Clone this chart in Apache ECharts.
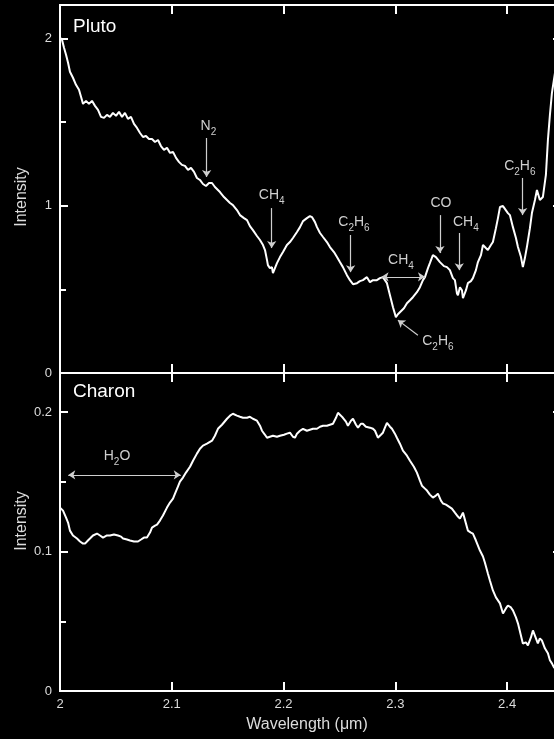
<!DOCTYPE html>
<html>
<head>
<meta charset="utf-8">
<title>Pluto and Charon spectra</title>
<script src="https://cdn.jsdelivr.net/npm/echarts@6/dist/echarts.min.js"></script>
<style>
  html, body { margin: 0; padding: 0; background: #000; }
  #chart { width: 554px; height: 739px; }
</style>
</head>
<body>
<div id="chart"></div>
<script>
// Pluto reflectance spectrum (wavelength in µm, relative intensity)
const plutoWavelength = [
  2.0000, 2.0018, 2.0036, 2.0054, 2.0072, 2.0089, 2.0116, 2.0143, 2.0170, 2.0188,
  2.0206, 2.0233, 2.0259, 2.0286, 2.0313, 2.0340, 2.0367, 2.0394, 2.0420, 2.0447,
  2.0474, 2.0501, 2.0528, 2.0555, 2.0581, 2.0608, 2.0635, 2.0662, 2.0689, 2.0716,
  2.0742, 2.0769, 2.0796, 2.0823, 2.0850, 2.0877, 2.0903, 2.0930, 2.0957, 2.0984,
  2.1011, 2.1038, 2.1064, 2.1091, 2.1118, 2.1145, 2.1172, 2.1199, 2.1225, 2.1252,
  2.1279, 2.1306, 2.1333, 2.1360, 2.1386, 2.1431, 2.1467, 2.1494, 2.1521, 2.1547,
  2.1583, 2.1610, 2.1646, 2.1673, 2.1699, 2.1726, 2.1762, 2.1789, 2.1816, 2.1834,
  2.1852, 2.1860, 2.1878, 2.1896, 2.1905, 2.1923, 2.1941, 2.1968, 2.1995, 2.2030,
  2.2057, 2.2084, 2.2120, 2.2147, 2.2174, 2.2209, 2.2236, 2.2254, 2.2281, 2.2299,
  2.2326, 2.2353, 2.2388, 2.2415, 2.2451, 2.2478, 2.2504, 2.2531, 2.2567, 2.2594,
  2.2621, 2.2657, 2.2683, 2.2710, 2.2746, 2.2773, 2.2800, 2.2835, 2.2862, 2.2889,
  2.2925, 2.2952, 2.2979, 2.3005, 2.3023, 2.3041, 2.3077, 2.3104, 2.3131, 2.3157,
  2.3193, 2.3220, 2.3247, 2.3265, 2.3292, 2.3309, 2.3336, 2.3363, 2.3399, 2.3435,
  2.3462, 2.3488, 2.3515, 2.3533, 2.3551, 2.3560, 2.3578, 2.3596, 2.3605, 2.3632,
  2.3649, 2.3676, 2.3694, 2.3721, 2.3739, 2.3766, 2.3784, 2.3810, 2.3828, 2.3855,
  2.3873, 2.3900, 2.3918, 2.3936, 2.3963, 2.3980, 2.4007, 2.4025, 2.4052, 2.4079,
  2.4097, 2.4124, 2.4141, 2.4159, 2.4177, 2.4204, 2.4222, 2.4249, 2.4267, 2.4293,
  2.4320, 2.4347, 2.4365, 2.4383, 2.4401, 2.4419, 2.4446, 2.4472
];
const plutoIntensity = [
  2.004, 1.992, 1.944, 1.902, 1.855, 1.801, 1.765, 1.723, 1.693, 1.651,
  1.609, 1.627, 1.609, 1.627, 1.597, 1.573, 1.531, 1.525, 1.543, 1.531,
  1.555, 1.537, 1.561, 1.531, 1.555, 1.519, 1.531, 1.489, 1.465, 1.435,
  1.411, 1.417, 1.399, 1.399, 1.381, 1.393, 1.357, 1.334, 1.346, 1.316,
  1.322, 1.286, 1.262, 1.244, 1.238, 1.214, 1.226, 1.202, 1.166, 1.154,
  1.130, 1.118, 1.136, 1.136, 1.112, 1.082, 1.052, 1.034, 1.016, 1.004,
  0.974, 0.944, 0.926, 0.914, 0.878, 0.854, 0.819, 0.795, 0.765, 0.735,
  0.675, 0.645, 0.627, 0.633, 0.597, 0.627, 0.657, 0.693, 0.723, 0.765,
  0.783, 0.807, 0.843, 0.872, 0.908, 0.926, 0.938, 0.932, 0.902, 0.872,
  0.837, 0.813, 0.783, 0.753, 0.723, 0.693, 0.663, 0.633, 0.585, 0.555,
  0.531, 0.537, 0.549, 0.555, 0.573, 0.543, 0.555, 0.555, 0.567, 0.573,
  0.537, 0.465, 0.393, 0.334, 0.351, 0.363, 0.387, 0.417, 0.435, 0.453,
  0.483, 0.513, 0.555, 0.573, 0.627, 0.657, 0.705, 0.693, 0.663, 0.639,
  0.633, 0.615, 0.567, 0.555, 0.477, 0.465, 0.513, 0.495, 0.447, 0.495,
  0.537, 0.549, 0.567, 0.615, 0.663, 0.705, 0.765, 0.747, 0.735, 0.765,
  0.783, 0.866, 0.926, 0.992, 0.998, 1.004, 0.956, 0.944, 0.872, 0.807,
  0.753, 0.693, 0.633, 0.687, 0.753, 0.866, 0.956, 1.034, 1.094, 1.034,
  1.052, 1.184, 1.393, 1.543, 1.675, 1.753, 1.872, 1.962
];

// Charon reflectance spectrum
const charonWavelength = [
  2.0000, 2.0027, 2.0054, 2.0072, 2.0089, 2.0116, 2.0152, 2.0179, 2.0206, 2.0224,
  2.0250, 2.0268, 2.0295, 2.0331, 2.0358, 2.0385, 2.0420, 2.0447, 2.0483, 2.0519,
  2.0546, 2.0564, 2.0599, 2.0626, 2.0662, 2.0698, 2.0725, 2.0751, 2.0778, 2.0805,
  2.0823, 2.0850, 2.0868, 2.0894, 2.0921, 2.0957, 2.0984, 2.1011, 2.1029, 2.1055,
  2.1073, 2.1100, 2.1127, 2.1163, 2.1190, 2.1225, 2.1252, 2.1279, 2.1315, 2.1360,
  2.1386, 2.1413, 2.1449, 2.1494, 2.1521, 2.1547, 2.1583, 2.1610, 2.1637, 2.1673,
  2.1699, 2.1726, 2.1762, 2.1789, 2.1807, 2.1834, 2.1852, 2.1878, 2.1905, 2.1941,
  2.1968, 2.2004, 2.2030, 2.2057, 2.2084, 2.2102, 2.2120, 2.2147, 2.2174, 2.2209,
  2.2236, 2.2263, 2.2299, 2.2326, 2.2353, 2.2388, 2.2415, 2.2442, 2.2469, 2.2487,
  2.2513, 2.2531, 2.2558, 2.2576, 2.2603, 2.2621, 2.2648, 2.2666, 2.2692, 2.2710,
  2.2737, 2.2773, 2.2800, 2.2818, 2.2844, 2.2871, 2.2889, 2.2907, 2.2925, 2.2952,
  2.2970, 2.2996, 2.3014, 2.3041, 2.3068, 2.3104, 2.3131, 2.3166, 2.3193, 2.3220,
  2.3238, 2.3265, 2.3283, 2.3309, 2.3336, 2.3363, 2.3381, 2.3408, 2.3426, 2.3453,
  2.3470, 2.3506, 2.3533, 2.3560, 2.3578, 2.3605, 2.3632, 2.3649, 2.3676, 2.3694,
  2.3721, 2.3757, 2.3784, 2.3801, 2.3828, 2.3846, 2.3873, 2.3900, 2.3936, 2.3963,
  2.3989, 2.4007, 2.4034, 2.4052, 2.4079, 2.4097, 2.4123, 2.4141, 2.4168, 2.4186,
  2.4213, 2.4231, 2.4258, 2.4275, 2.4293, 2.4311, 2.4338, 2.4365, 2.4383, 2.4401,
  2.4419, 2.4446, 2.4472
];
const charonIntensity = [
  0.1315, 0.1293, 0.1243, 0.1208, 0.1150, 0.1115, 0.1093, 0.1072, 0.1057, 0.1057,
  0.1079, 0.1093, 0.1115, 0.1129, 0.1115, 0.1100, 0.1115, 0.1115, 0.1122, 0.1115,
  0.1107, 0.1093, 0.1086, 0.1079, 0.1072, 0.1072, 0.1086, 0.1100, 0.1100, 0.1136,
  0.1172, 0.1186, 0.1193, 0.1222, 0.1258, 0.1315, 0.1351, 0.1379, 0.1415, 0.1465,
  0.1501, 0.1530, 0.1566, 0.1608, 0.1651, 0.1702, 0.1737, 0.1759, 0.1773, 0.1795,
  0.1830, 0.1880, 0.1909, 0.1952, 0.1974, 0.1988, 0.1974, 0.1966, 0.1959, 0.1959,
  0.1966, 0.1952, 0.1938, 0.1902, 0.1866, 0.1837, 0.1816, 0.1823, 0.1830, 0.1823,
  0.1830, 0.1837, 0.1845, 0.1852, 0.1823, 0.1816, 0.1845, 0.1866, 0.1880, 0.1866,
  0.1873, 0.1880, 0.1880, 0.1895, 0.1902, 0.1902, 0.1909, 0.1916, 0.1959, 0.1995,
  0.1974, 0.1959, 0.1931, 0.1902, 0.1938, 0.1952, 0.1909, 0.1888, 0.1916, 0.1916,
  0.1895, 0.1888, 0.1880, 0.1866, 0.1816, 0.1837, 0.1852, 0.1888, 0.1923, 0.1895,
  0.1880, 0.1845, 0.1816, 0.1773, 0.1723, 0.1687, 0.1651, 0.1608, 0.1566, 0.1508,
  0.1472, 0.1451, 0.1437, 0.1408, 0.1387, 0.1401, 0.1415, 0.1365, 0.1344, 0.1336,
  0.1329, 0.1308, 0.1279, 0.1251, 0.1236, 0.1279, 0.1200, 0.1150, 0.1136, 0.1129,
  0.1079, 0.1007, 0.0964, 0.0921, 0.0843, 0.0792, 0.0721, 0.0671, 0.0628, 0.0556,
  0.0592, 0.0613, 0.0599, 0.0578, 0.0528, 0.0485, 0.0399, 0.0341, 0.0349, 0.0327,
  0.0384, 0.0434, 0.0377, 0.0341, 0.0377, 0.0363, 0.0306, 0.0270, 0.0220, 0.0198,
  0.0170, 0.0148, 0.0134
];

// Absorption features marked on Pluto's spectrum: label anchor [µm, intensity]
const plutoFeatureNames = ['N2', 'CH4', 'C2H6', 'CH4', 'C2H6', 'CO', 'CH4', 'C2H6'];
const plutoFeatureLabelAt = [
  [2.1328, 1.464], [2.1894, 1.052], [2.2630, 0.890], [2.3050, 0.663],
  [2.3381, 0.178], [2.3408, 1.004], [2.3631, 0.890], [2.4114, 1.226]
];
// Single-headed arrows: [from, to] in data units
const plutoFeatureArrows = [
  [[2.1312, 1.405], [2.1312, 1.172]],
  [[2.1894, 0.986], [2.1894, 0.747]],
  [[2.2600, 0.825], [2.2600, 0.603]],
  [[2.3202, 0.226], [2.3023, 0.316]],
  [[2.3399, 0.944], [2.3399, 0.717]],
  [[2.3572, 0.837], [2.3572, 0.615]],
  [[2.4139, 1.166], [2.4139, 0.944]]
];
// Double-headed band span (CH4 band)
const plutoBandSpan = [[2.2877, 0.575], [2.3265, 0.575]];

// Water-ice band on Charon
const charonFeatureNames = ['H2O'];
const charonFeatureLabelAt = [[2.0510, 0.1666]];
const charonBandSpan = [[2.0074, 0.1549], [2.1080, 0.1549]];

// Axis tick values
const xTickInterval = 0.1;
const plutoYTicks = { major: 1, minor: 0.5 };
const charonYTicks = { major: 0.1, minor: 0.05 };

const FONT = '"Liberation Sans", Arial, Helvetica, sans-serif';
const AXIS_COLOR = '#ffffff';
const TEXT_COLOR = '#dcdcdc';
const NOTE_COLOR = '#cfcfcf';

function pairs(xs, ys) { return xs.map((x, i) => [x, ys[i]]); }

// Turn a formula such as C2H6 into rich text with subscripted digits
function chem(s) {
  return s.replace(/([A-Za-z]+)|(\d+)/g, (m, a, d) => a ? '{t|' + a + '}' : '{s|' + d + '}');
}

const chemRich = {
  t: { fontSize: 14, lineHeight: 18, verticalAlign: 'top', color: NOTE_COLOR, fontFamily: FONT },
  s: { fontSize: 10, lineHeight: 10, verticalAlign: 'bottom', color: NOTE_COLOR, fontFamily: FONT }
};

function noteLabels(names, coords) {
  return {
    silent: true,
    symbol: 'circle',
    symbolSize: 1,
    itemStyle: { color: 'rgba(0,0,0,0)' },
    label: {
      show: true,
      position: 'inside',
      formatter: p => chem(p.name),
      rich: chemRich
    },
    data: names.map((n, i) => ({ name: n, coord: coords[i] }))
  };
}

function noteArrows(single, spans) {
  const data = single.map(a => [{ coord: a[0], symbol: 'none' }, { coord: a[1], symbol: 'arrow' }]);
  spans.forEach(s => data.push([{ coord: s[0], symbol: 'arrow' }, { coord: s[1], symbol: 'arrow' }]));
  return {
    silent: true,
    symbolSize: 7,
    label: { show: false },
    lineStyle: { color: NOTE_COLOR, width: 1.2, type: 'solid' },
    emphasis: { disabled: true },
    data: data
  };
}

// The plot frame runs slightly past the right edge of the page
const GRID_LEFT = 60;
const GRID_WIDTH = 503;

function xAxisFor(grid, position, showLabels) {
  return {
    type: 'value', gridIndex: grid, position: position,
    min: 2, max: 2.45, interval: xTickInterval,
    axisLine: { show: true, onZero: false, lineStyle: { color: AXIS_COLOR, width: 2 } },
    axisTick: { show: true, inside: true, length: 9, lineStyle: { color: AXIS_COLOR, width: 2 } },
    axisLabel: {
      show: showLabels, color: TEXT_COLOR, fontSize: 13, fontFamily: FONT, margin: 7,
      showMaxLabel: false
    },
    splitLine: { show: false }
  };
}

function yAxisFor(grid, position, max, interval, tickLen, showLabels) {
  return {
    type: 'value', gridIndex: grid, position: position,
    min: 0, max: max, interval: interval,
    axisLine: { show: true, onZero: false, lineStyle: { color: AXIS_COLOR, width: 2 } },
    axisTick: { show: true, inside: true, length: tickLen, lineStyle: { color: AXIS_COLOR, width: 2 } },
    axisLabel: {
      show: showLabels, color: TEXT_COLOR, fontSize: 13, fontFamily: FONT, margin: 8,
      showMaxLabel: false
    },
    splitLine: { show: false }
  };
}

const chart = echarts.init(document.getElementById('chart'), null, { renderer: 'canvas' });

chart.setOption({
  backgroundColor: '#000000',
  animation: false,
  grid: [
    { left: GRID_LEFT, top: 5, width: GRID_WIDTH, height: 368, outerBoundsMode: 'none', containLabel: false },
    { left: GRID_LEFT, top: 373, width: GRID_WIDTH, height: 318, outerBoundsMode: 'none', containLabel: false }
  ],
  xAxis: [
    xAxisFor(0, 'bottom', false),
    xAxisFor(0, 'top', false),
    xAxisFor(1, 'bottom', true),
    xAxisFor(1, 'top', false)
  ],
  yAxis: [
    yAxisFor(0, 'left', 2.2, plutoYTicks.major, 8, true),
    yAxisFor(0, 'left', 2.2, plutoYTicks.minor, 6, false),
    yAxisFor(0, 'right', 2.2, plutoYTicks.major, 10, false),
    yAxisFor(1, 'left', 0.228, charonYTicks.major, 8, true),
    yAxisFor(1, 'left', 0.228, charonYTicks.minor, 6, false),
    yAxisFor(1, 'right', 0.228, charonYTicks.major, 10, false)
  ],
  series: [
    {
      name: 'Pluto', type: 'line', xAxisIndex: 0, yAxisIndex: 0,
      data: pairs(plutoWavelength, plutoIntensity),
      showSymbol: false, smooth: false,
      lineStyle: { color: '#ffffff', width: 2 },
      markPoint: noteLabels(plutoFeatureNames, plutoFeatureLabelAt),
      markLine: noteArrows(plutoFeatureArrows, [plutoBandSpan])
    },
    {
      name: 'Charon', type: 'line', xAxisIndex: 2, yAxisIndex: 3,
      data: pairs(charonWavelength, charonIntensity),
      showSymbol: false, smooth: false,
      lineStyle: { color: '#ffffff', width: 2 },
      markPoint: noteLabels(charonFeatureNames, charonFeatureLabelAt),
      markLine: noteArrows([], [charonBandSpan])
    }
  ],
  graphic: [
    { type: 'text', left: 73, top: 17, style: { text: 'Pluto', fill: '#ffffff', font: '19px ' + FONT } },
    { type: 'text', left: 73, top: 382, style: { text: 'Charon', fill: '#ffffff', font: '19px ' + FONT } },
    {
      type: 'text', x: 22, y: 197, rotation: Math.PI / 2,
      style: { text: 'Intensity', fill: TEXT_COLOR, font: '16px ' + FONT, align: 'center', verticalAlign: 'middle' }
    },
    {
      type: 'text', x: 22, y: 521, rotation: Math.PI / 2,
      style: { text: 'Intensity', fill: TEXT_COLOR, font: '16px ' + FONT, align: 'center', verticalAlign: 'middle' }
    },
    {
      type: 'text', x: 307, y: 725,
      style: { text: 'Wavelength (\u03bcm)', fill: TEXT_COLOR, font: '16px ' + FONT, align: 'center', verticalAlign: 'middle' }
    }
  ]
});
</script>
</body>
</html>
